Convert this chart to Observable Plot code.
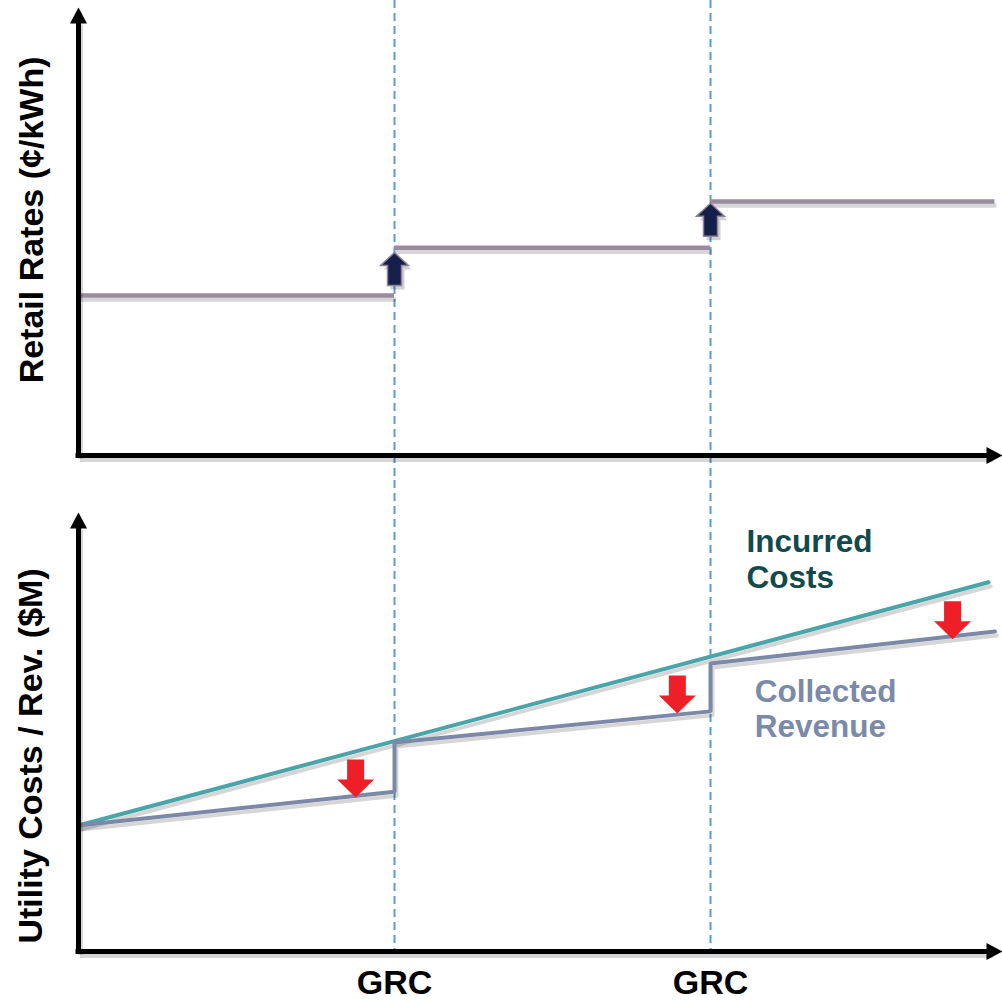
<!DOCTYPE html>
<html>
<head>
<meta charset="utf-8">
<script src="https://cdn.jsdelivr.net/npm/d3@7"></script>
<script src="https://cdn.jsdelivr.net/npm/@observablehq/plot@0.6"></script>
<style>
  body { margin: 0; background: #fff; }
  #chart { width: 1002px; height: 1000px; position: relative; overflow: hidden; }
  #chart svg { display: block; }
</style>
</head>
<body>
<div id="chart"></div>
<script>
// ---- Data ----
const grcTimes = [1, 2];
const grcLabels = ["GRC", "GRC"];

// Top panel: retail rate segments
const rateStarts = [0, 1, 2];
const rateEnds = [1, 2, 2.9];
const retailRates = [3.57, 4.64, 5.67];
const rateArrowTimes = [1, 2];
const rateArrowTips = [4.53, 5.63];

// Bottom panel: incurred costs & collected revenue
const costTimes = [0, 2.88];
const incurredCosts = [2.87, 8.41];
const revenueTimes = [0, 1, 1, 2, 2, 2.9];
const collectedRevenue = [2.87, 3.64, 4.76, 5.47, 6.56, 7.29];
const gapArrowTimes = [0.877, 1.895, 2.766];
const gapArrowTips = [3.51, 5.42, 7.11];

const yLabelTop = "Retail Rates (¢/kWh)";
const yLabelBottom = "Utility Costs / Rev. ($M)";
const curveLabels = ["Incurred\nCosts", "Collected\nRevenue"];
const curveLabelTimes = [2.114, 2.14];
const curveLabelValues = [8.95, 5.55];
const curveLabelColors = ["#124a4c", "#7a8aa8"];

// ---- Tables built from arrays ----
const rateSegments = retailRates.map((r, i) => ({start: rateStarts[i], end: rateEnds[i], rate: r}));
const rateArrows = rateArrowTimes.map((t, i) => ({t, v: rateArrowTips[i]}));
const incurredTable = costTimes.map((t, i) => ({t, v: incurredCosts[i]}));
const revenueTable = revenueTimes.map((t, i) => ({t, v: collectedRevenue[i]}));
const gapArrows = gapArrowTimes.map((t, i) => ({t, v: gapArrowTips[i]}));

// ---- Custom symbols (shapes only; positions come from scales) ----
const upBlockArrow = {draw(c) {
  c.moveTo(0, 0); c.lineTo(14, 13); c.lineTo(7, 13); c.lineTo(7, 33);
  c.lineTo(-7, 33); c.lineTo(-7, 13); c.lineTo(-14, 13); c.closePath();
}};
const downBlockArrow = {draw(c) {
  c.moveTo(0, 0); c.lineTo(18.5, -18); c.lineTo(8.5, -18); c.lineTo(8.5, -38);
  c.lineTo(-8.5, -38); c.lineTo(-8.5, -18); c.lineTo(-18.5, -18); c.closePath();
}};
const axisHead = {draw(c) {
  c.moveTo(0, 0); c.lineTo(8.5, 16); c.lineTo(-8.5, 16); c.closePath();
}};

const font = "'Liberation Sans', Arial, Helvetica, sans-serif";
const xScale = {domain: [0, 2.924], range: [78, 1002]};
const dashed = {stroke: "#5b9bd5", strokeWidth: 2, strokeDasharray: "8,5"};
const shadowStroke = "rgba(0,0,0,0.16)";
const sh = {dx: 2, dy: 4};

function axesMarks(xEnd) {
  const head1 = [{t: 0, v: 10}], head2 = [{t: 2.924, v: 0}];
  return [
    Plot.ruleX([0], {y1: 0, y2: 9.7, stroke: shadowStroke, strokeWidth: 5, ...sh}),
    Plot.ruleY([0], {x1: 0, x2: xEnd, stroke: shadowStroke, strokeWidth: 5, ...sh}),
    Plot.ruleX([0], {y1: 0, y2: 9.7, stroke: "#000", strokeWidth: 5, strokeLinecap: "square"}),
    Plot.ruleY([0], {x1: 0, x2: xEnd, stroke: "#000", strokeWidth: 5, strokeLinecap: "square"}),
    Plot.dot(head1, {x: "t", y: "v", symbol: axisHead, fill: "#000", stroke: "none"}),
    Plot.dot(head2, {x: "t", y: "v", symbol: axisHead, rotate: 90, fill: "#000", stroke: "none"})
  ];
}

const topPlot = Plot.plot({
  width: 1002, height: 480, margin: 0,
  x: {...xScale, axis: null},
  y: {domain: [0, 10], range: [455, 7], axis: null},
  style: {fontFamily: font, background: "transparent", overflow: "visible"},
  marks: [
    Plot.ruleX(grcTimes, dashed),
    Plot.ruleY(rateSegments, {x1: "start", x2: "end", y: "rate", stroke: shadowStroke, strokeWidth: 4.5, ...sh}),
    Plot.ruleY(rateSegments, {x1: "start", x2: "end", y: "rate", stroke: "#9a8b9f", strokeWidth: 4.5}),
    Plot.dot(rateArrows, {x: "t", y: "v", symbol: upBlockArrow, fill: "rgba(0,0,0,0.18)", stroke: "none", dx: 3, dy: 4}),
    Plot.dot(rateArrows, {x: "t", y: "v", symbol: upBlockArrow, fill: "#14204a", stroke: "#8f8398", strokeWidth: 1.5}),
    ...axesMarks(2.89),
    Plot.text([yLabelTop], {text: d => d, frameAnchor: "left", dx: 32, y: 1.61, rotate: -90, fontSize: 34, fontWeight: "bold", fill: "#000", textAnchor: "start", lineAnchor: "middle", ariaLabel: "ylabel"})
  ]
});

const bottomPlot = Plot.plot({
  width: 1002, height: 520, marginTop: 0, marginBottom: 49, marginLeft: 0, marginRight: 0,
  x: {...xScale},
  y: {domain: [0, 10], range: [471, 32], axis: null},
  style: {fontFamily: font, background: "transparent", overflow: "visible"},
  marks: [
    Plot.ruleX(grcTimes, dashed),
    Plot.line(incurredTable, {x: "t", y: "v", stroke: shadowStroke, strokeWidth: 4, ...sh}),
    Plot.line(revenueTable, {x: "t", y: "v", stroke: shadowStroke, strokeWidth: 4, ...sh}),
    Plot.line(incurredTable, {x: "t", y: "v", stroke: "#4aa5aa", strokeWidth: 4}),
    Plot.line(revenueTable, {x: "t", y: "v", stroke: "#7b88a8", strokeWidth: 4, strokeLinejoin: "miter"}),
    Plot.dot(gapArrows, {x: "t", y: "v", symbol: downBlockArrow, fill: "#ee1f26", stroke: "none"}),
    ...axesMarks(2.89),
    Plot.axisX(grcTimes, {anchor: "bottom", label: null, tickSize: 0, tickPadding: 18, tickFormat: d => grcLabels[grcTimes.indexOf(d)], fontSize: 34, fontWeight: "bold", fill: "#000"}),
    Plot.text([yLabelBottom], {text: d => d, frameAnchor: "left", dx: 31, y: 0.18, rotate: -90, fontSize: 34, fontWeight: "bold", fill: "#000", textAnchor: "start", lineAnchor: "middle", ariaLabel: "ylabel"}),
    Plot.text([0], {x: curveLabelTimes[0], y: curveLabelValues[0], text: () => curveLabels[0], fill: curveLabelColors[0], fontSize: 31.5, fontWeight: "bold", textAnchor: "start", lineAnchor: "middle", lineHeight: 1.12}),
    Plot.text([1], {x: curveLabelTimes[1], y: curveLabelValues[1], text: () => curveLabels[1], fill: curveLabelColors[1], fontSize: 31.5, fontWeight: "bold", textAnchor: "start", lineAnchor: "middle", lineHeight: 1.12})
  ]
});

d3.select(topPlot).selectAll('g[aria-label="ylabel"] text').attr("textLength", 343).attr("lengthAdjust", "spacingAndGlyphs");
d3.select(bottomPlot).selectAll('g[aria-label="ylabel"] text').attr("textLength", 421).attr("lengthAdjust", "spacingAndGlyphs");

const chart = document.getElementById("chart");
chart.appendChild(topPlot);
chart.appendChild(bottomPlot);
</script>
</body>
</html>
